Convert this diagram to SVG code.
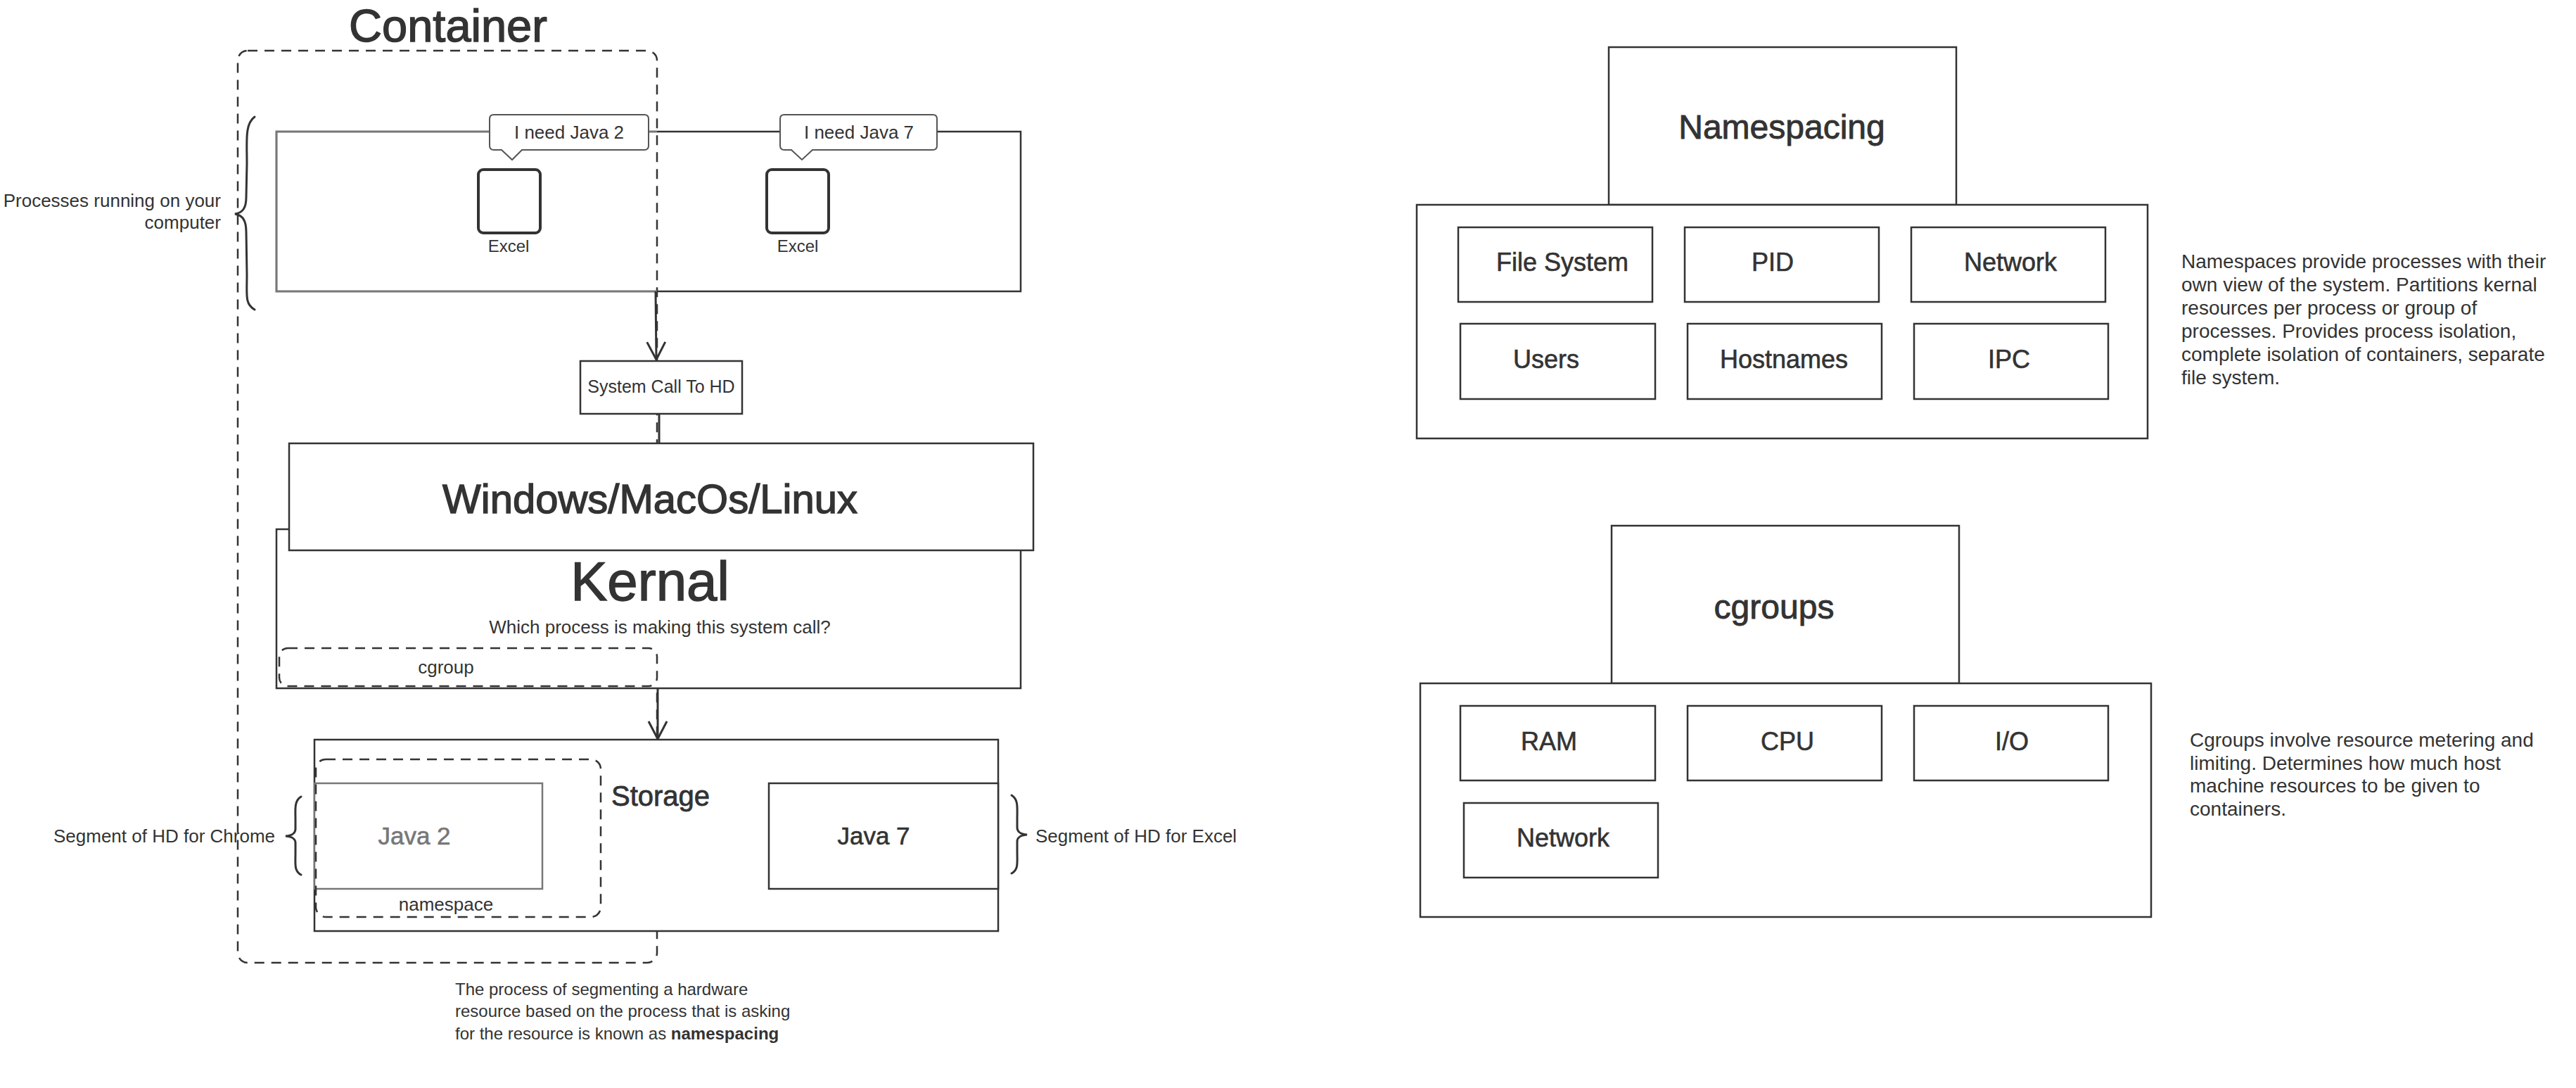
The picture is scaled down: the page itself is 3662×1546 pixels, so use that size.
<svg xmlns="http://www.w3.org/2000/svg" width="3662" height="1546" viewBox="0 0 3662 1546">
<style>
text{font-family:"Liberation Sans",Arial,sans-serif;fill:#333}
.box{fill:#fff;stroke:#333;stroke-width:2.5}
.open{fill:none;stroke:#333;stroke-width:2.5}
.dash{fill:none;stroke:#333;stroke-width:2.5;stroke-dasharray:14 10}
.brace{fill:none;stroke:#333;stroke-width:3;stroke-linecap:round}
.conn{fill:none;stroke:#333;stroke-width:3}
.s26{font-size:26px}
.s24{font-size:24px}
.s28{font-size:28px}
.s36{font-size:36px;stroke:#333;stroke-width:0.6}
.s48{font-size:48px;stroke:#333;stroke-width:0.9}
.big{stroke:#333;stroke-width:1.4}
.mid{text-anchor:middle}
.end{text-anchor:end}
.gray{fill:#777}
</style>
<defs>
<marker id="arr" viewBox="0 0 30 30" refX="28" refY="15" markerWidth="30" markerHeight="30" markerUnits="userSpaceOnUse" orient="auto">
<path d="M3,2 L28,15 L3,28" fill="none" stroke="#333" stroke-width="3"/>
</marker>
</defs>
<rect width="3662" height="1546" fill="#fff"/>

<g id="container">
<rect class="dash" x="338" y="72" width="596" height="1296" rx="14"/>
<text x="637" y="59" class="mid big" style="font-size:65px">Container</text>
</g>

<g id="processes">
<rect class="open" x="393" y="187" width="1058" height="227"/>
<path d="M934,187 L393,187 L393,414 L934,414" fill="none" stroke="#777" stroke-width="2.6"/>
<path class="brace" d="M362,166 C348,176 351,200 351,232 L350,280 C350,296 345,302 334,304 C345,306 350,313 350,330 L351,390 C351,420 348,432 362,440"/>
<text class="s26 end" x="314" y="294">Processes running on your</text>
<text class="s26 end" x="314" y="325">computer</text>
</g>

<g id="excel1">
<rect x="680" y="241" width="88" height="90" rx="7" fill="#fff" stroke="#333" stroke-width="4"/>
<text class="s24 mid" x="723" y="358">Excel</text>
</g>
<g id="bubble1">
<path d="M702,163 L916,163 Q922,163 922,169 L922,207 Q922,213 916,213 L742,213 L728,227 L713,213 L702,213 Q696,213 696,207 L696,169 Q696,163 702,163 Z" fill="#fff" stroke="#555" stroke-width="2"/>
<text class="s26 mid" x="809" y="197">I need Java 2</text>
</g>
<g id="excel2">
<rect x="1090" y="241" width="88" height="90" rx="7" fill="#fff" stroke="#333" stroke-width="4"/>
<text class="s24 mid" x="1134" y="358">Excel</text>
</g>
<g id="bubble2">
<path d="M1115,163 L1326,163 Q1332,163 1332,169 L1332,207 Q1332,213 1326,213 L1155,213 L1140,227 L1125,213 L1115,213 Q1109,213 1109,207 L1109,169 Q1109,163 1115,163 Z" fill="#fff" stroke="#555" stroke-width="2"/>
<text class="s26 mid" x="1221" y="197">I need Java 7</text>
</g>

<g id="syscall">
<rect class="box" x="825" y="513" width="230" height="75"/>
<text class="mid" x="940" y="558" style="font-size:25px">System Call To HD</text>
</g>

<g id="kernal">
<rect class="box" x="393" y="752" width="1058" height="226"/>
<text class="mid big" x="924" y="853" style="font-size:78px">Kernal</text>
<text class="s26 mid" x="938" y="900">Which process is making this system call?</text>
</g>
<g id="cgroup">
<rect class="dash" x="397" y="921" width="537" height="54" rx="12"/>
<text class="s26 mid" x="634" y="957">cgroup</text>
</g>

<g id="os">
<rect class="box" x="411" y="630" width="1058" height="152"/>
<text class="mid big" x="924" y="729" style="font-size:58px">Windows/MacOs/Linux</text>
</g>

<g id="storage">
<rect class="box" x="447" y="1051" width="972" height="272"/>
<text x="869" y="1145" style="font-size:40px;stroke:#333;stroke-width:0.8">Storage</text>
</g>
<g id="java2">
<rect x="447" y="1113" width="324" height="150" fill="#fff" stroke="#777" stroke-width="2.5"/>
<text class="mid gray" x="589" y="1200" style="font-size:35px;stroke:#777;stroke-width:0.6">Java 2</text>
</g>
<g id="namespace">
<rect class="dash" x="449" y="1079" width="405" height="224" rx="14"/>
<text class="s26 mid" x="634" y="1294">namespace</text>
</g>
<g id="java7">
<rect class="box" x="1093" y="1113" width="326" height="150"/>
<text class="mid" x="1242" y="1200" style="font-size:35px;stroke:#333;stroke-width:0.6">Java 7</text>
</g>
<g id="seg-chrome">
<path class="brace" d="M428,1132 C418,1138 420,1150 420,1165 L420,1178 C420,1184 416,1187 406,1188 C416,1189 420,1192 420,1198 L420,1212 C420,1228 418,1238 428,1243"/>
<text class="s26 end" x="391" y="1197">Segment of HD for Chrome</text>
</g>
<g id="seg-excel">
<path class="brace" d="M1438,1130 C1448,1136 1446,1148 1446,1163 L1446,1176 C1446,1182 1450,1185 1460,1186 C1450,1187 1446,1190 1446,1196 L1446,1210 C1446,1226 1448,1236 1438,1241"/>
<text class="s26" x="1472" y="1197">Segment of HD for Excel</text>
</g>
<g id="note-namespacing">
<text class="s24" x="647" y="1414">The process of segmenting a hardware</text>
<text class="s24" x="647" y="1445">resource based on the process that is asking</text>
<text class="s24" x="647" y="1477">for the resource is known as <tspan font-weight="bold">namespacing</tspan></text>
</g>

<g id="connectors">
<path class="conn" d="M932,414 L933,511" marker-end="url(#arr)"/>
<path class="conn" d="M937,588 L937,630"/>
<path class="conn" d="M935,978 L935,1050" marker-end="url(#arr)"/>
</g>

<g id="ns-title">
<rect class="box" x="2287" y="67" width="494" height="224"/>
<text class="s48 mid" x="2533" y="197">Namespacing</text>
</g>
<g id="ns-panel">
<rect class="box" x="2014" y="291" width="1039" height="332"/>
</g>
<g id="ns-fs"><rect class="box" x="2073" y="323" width="276" height="106"/><text class="s36 mid" x="2221" y="385">File System</text></g>
<g id="ns-pid"><rect class="box" x="2395" y="323" width="276" height="106"/><text class="s36 mid" x="2520" y="385">PID</text></g>
<g id="ns-net"><rect class="box" x="2717" y="323" width="276" height="106"/><text class="s36 mid" x="2858" y="385">Network</text></g>
<g id="ns-users"><rect class="box" x="2076" y="460" width="277" height="107"/><text class="s36 mid" x="2198" y="523">Users</text></g>
<g id="ns-host"><rect class="box" x="2399" y="460" width="276" height="107"/><text class="s36 mid" x="2536" y="523">Hostnames</text></g>
<g id="ns-ipc"><rect class="box" x="2721" y="460" width="276" height="107"/><text class="s36 mid" x="2856" y="523">IPC</text></g>
<g id="ns-desc">
<text class="s28" x="3101" y="381">Namespaces provide processes with their</text>
<text class="s28" x="3101" y="414">own view of the system. Partitions kernal</text>
<text class="s28" x="3101" y="447">resources per process or group of</text>
<text class="s28" x="3101" y="480">processes. Provides process isolation,</text>
<text class="s28" x="3101" y="513">complete isolation of containers, separate</text>
<text class="s28" x="3101" y="546">file system.</text>
</g>

<g id="cg-title">
<rect class="box" x="2291" y="747" width="494" height="224"/>
<text class="s48 mid" x="2522" y="879">cgroups</text>
</g>
<g id="cg-panel">
<rect class="box" x="2019" y="971" width="1039" height="332"/>
</g>
<g id="cg-ram"><rect class="box" x="2076" y="1003" width="277" height="106"/><text class="s36 mid" x="2202" y="1066">RAM</text></g>
<g id="cg-cpu"><rect class="box" x="2399" y="1003" width="276" height="106"/><text class="s36 mid" x="2541" y="1066">CPU</text></g>
<g id="cg-io"><rect class="box" x="2721" y="1003" width="276" height="106"/><text class="s36 mid" x="2860" y="1066">I/O</text></g>
<g id="cg-net"><rect class="box" x="2081" y="1141" width="276" height="106"/><text class="s36 mid" x="2222" y="1203">Network</text></g>
<g id="cg-desc">
<text class="s28" x="3113" y="1061">Cgroups involve resource metering and</text>
<text class="s28" x="3113" y="1094">limiting. Determines how much host</text>
<text class="s28" x="3113" y="1126">machine resources to be given to</text>
<text class="s28" x="3113" y="1159">containers.</text>
</g>
</svg>
